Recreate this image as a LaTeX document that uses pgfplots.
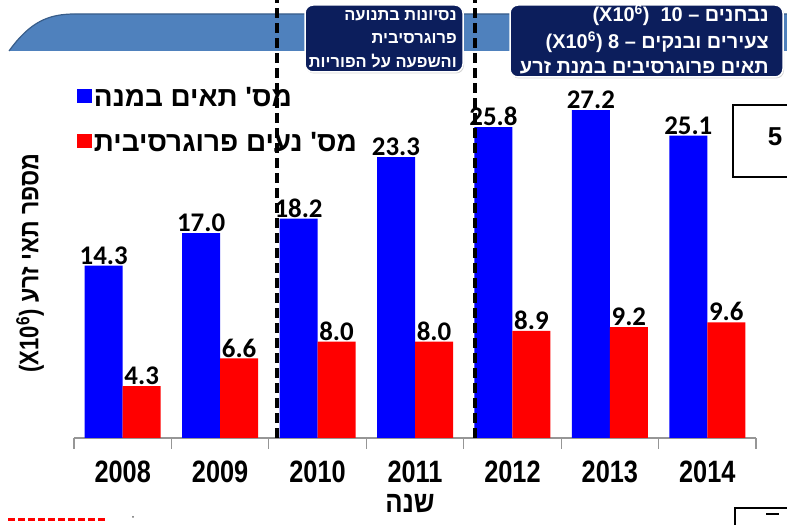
\documentclass[border=0pt]{standalone}
\usepackage{pgfplots}
\pgfplotsset{compat=1.18}
\usepackage{fontspec}
\setmainfont{Liberation Sans}
\newfontfamily\heb[Script=Hebrew]{Liberation Sans}
\newfontfamily\hebn[Script=Hebrew,FakeStretch=0.86]{Liberation Sans}
\newfontfamily\narrow[FakeStretch=0.82]{Liberation Sans}
\newfontfamily\latn{Liberation Sans}
\newfontfamily\carl{Carlito}
\TeXXeTstate=1
\usetikzlibrary{shadows}
\definecolor{barblue}{RGB}{0,0,255}
\definecolor{barred}{RGB}{255,0,0}
\definecolor{navy}{RGB}{12,30,92}
\definecolor{banner}{RGB}{79,129,189}
\definecolor{bannerdark}{RGB}{56,93,138}
\definecolor{axgray}{RGB}{150,150,150}
\begin{document}
\begin{tikzpicture}[x=1bp,y=1bp]
\useasboundingbox (0,0) rectangle (787,525);
% banner
\fill[banner] (9,474) .. controls (30,503) and (48,511) .. (75,511) -- (787,511) -- (787,474) -- cycle;
\draw[bannerdark, line width=1.2bp] (9,474) .. controls (30,503) and (48,511) .. (75,511) -- (787,511);
\begin{axis}[
  at={(74bp,87bp)}, anchor=south west,
  width=682bp, height=438bp, scale only axis,
  xmin=-0.5, xmax=6.5, ymin=0, ymax=36.35,
  ybar=0pt, bar width=38bp,
  axis y line=none, axis x line*=bottom,
  x axis line style={axgray, line width=1.2bp},
  xtick={0,...,6},
  xticklabels={2008,2009,2010,2011,2012,2013,2014},
  major tick length=0pt,
  minor xtick={-0.5,0.5,...,6.5},
  minor tick length=11bp,
  tick align=outside,
  minor tick style={axgray, line width=1.2bp},
  xticklabel style={font=\narrow\bfseries\fontsize{31}{31}\selectfont, anchor=center, yshift=-34bp},
  clip=false,
  /pgf/number format/.cd, fixed, fixed zerofill, precision=1, assume math mode=true,
  /pgfplots/.cd,
  nodes near coords,
  nodes near coords style={font=\carl\bfseries\fontsize{27}{27}\selectfont, black, anchor=south, inner sep=1bp},
  legend style={at={(0.004,0.806)}, anchor=north west, draw=none, fill=none, inner sep=0pt,
    font=\heb\bfseries\fontsize{28}{28}\selectfont, row sep=20bp,
    /tikz/every even column/.append style={column sep=4bp}},
  legend cell align=left,
]
\addplot[fill=barblue, draw=none,
  legend image code/.code={\fill[barblue] (0bp,-6bp) rectangle (15bp,8bp);}]
  coordinates {(0,14.3) (1,17.0) (2,18.2) (3,23.3) (4,25.8) (5,27.2) (6,25.1)};
\addplot[fill=barred, draw=none,
  legend image code/.code={\fill[barred] (0bp,-6bp) rectangle (15bp,8bp);}]
  coordinates {(0,4.3) (1,6.6) (2,8.0) (3,8.0) (4,8.9) (5,9.2) (6,9.6)};
\legend{{\beginR מס' תאים במנה\endR},{\beginR מס' נעים פרוגרסיבית\endR}}
\coordinate (a1) at (axis cs:1.584,0);
\coordinate (a2) at (axis cs:3.616,0);
\end{axis}
% dashed separators
\draw[black, line width=4.5bp, dash pattern=on 10bp off 5bp] (a1) -- ++(0,438);
\draw[black, line width=4.5bp, dash pattern=on 10bp off 5bp] (a2) -- ++(0,438);
% boxes
\filldraw[navy, draw=white, line width=1.5bp, rounded corners=8bp, drop shadow={opacity=0.35, shadow xshift=1bp, shadow yshift=-1.5bp}]
  (305,453) rectangle (463,520);
\filldraw[navy, draw=white, line width=1.5bp, rounded corners=8bp, drop shadow={opacity=0.35, shadow xshift=1bp, shadow yshift=-1.5bp}]
  (510,448) rectangle (783,520);
\begin{scope}[every node/.style={text=white, font=\heb\bfseries\fontsize{16.5}{16.5}\selectfont, anchor=east, inner sep=0pt}]
\node at (457,509) {\beginR נסיונות בתנועה\endR};
\node at (457,486) {\beginR פרוגרסיבית\endR};
\node at (457,464) {\beginR והשפעה על הפוריות\endR};
\end{scope}
\begin{scope}[every node/.style={text=white, font=\heb\bfseries\fontsize{20}{20}\selectfont, anchor=east, inner sep=0pt}]
\node at (769,510) {{\latn(X10\textsuperscript{6})\ \ 10 –} \beginR נבחנים\endR};
\node at (769,483) {{\latn(X10\textsuperscript{6}) 8 –} \beginR צעירים ובנקים\endR};
\node at (769,457) {\beginR תאים פרוגרסיבים במנת זרע\endR};
\end{scope}
% axis titles
\node[rotate=90, font=\hebn\bfseries\fontsize{27}{27}\selectfont] at (30,262) {{\narrow(X10\textsuperscript{6})} \beginR מספר תאי זרע\endR};
\node[font=\hebn\bfseries\fontsize{30}{30}\selectfont] at (410,21) {\beginR שנה\endR};
% box 5
\draw[black, line width=1.8bp] (733,348) rectangle (795,420);
\node[font=\bfseries\fontsize{26}{26}\selectfont] at (775,388) {5};
% bottom right box
\draw[black, line width=1.5bp] (735,-5) rectangle (795,17);
\draw[black, line width=2bp] (766,11) -- (779,11);
% bottom left red dashes
\draw[barred, line width=3bp, dash pattern=on 7bp off 3bp] (8,5) -- (108,5);
\fill[black!60] (133,8) circle (1bp);
\end{tikzpicture}
\end{document}
